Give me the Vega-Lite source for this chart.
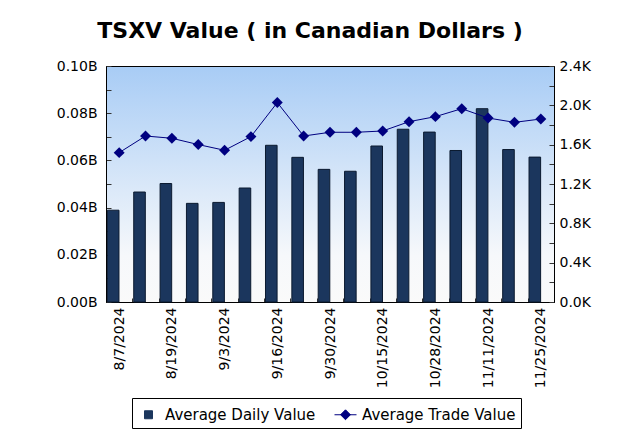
{
  "$schema": "https://vega.github.io/schema/vega-lite/v6.json",
  "width": 448,
  "height": 236,
  "autosize": {"type": "none"},
  "padding": {"left": 106, "top": 66, "right": 64, "bottom": 134},
  "background": "#ffffff",
  "title": {
    "text": "TSXV Value ( in Canadian Dollars )",
    "font": "DejaVu Sans",
    "fontSize": 22,
    "fontWeight": "bold",
    "color": "#000000",
    "anchor": "middle",
    "dx": -20,
    "offset": 16
  },
  "data": {
    "values": [
      {"date": "8/7/2024", "daily": 0.0389, "trade": 1519},
      {"date": "8/12/2024", "daily": 0.0466, "trade": 1688},
      {"date": "8/19/2024", "daily": 0.0502, "trade": 1665},
      {"date": "8/26/2024", "daily": 0.0418, "trade": 1601},
      {"date": "9/3/2024", "daily": 0.0422, "trade": 1543},
      {"date": "9/9/2024", "daily": 0.0483, "trade": 1682},
      {"date": "9/16/2024", "daily": 0.0664, "trade": 2028},
      {"date": "9/23/2024", "daily": 0.0613, "trade": 1688},
      {"date": "9/30/2024", "daily": 0.0562, "trade": 1726},
      {"date": "10/7/2024", "daily": 0.0554, "trade": 1726},
      {"date": "10/15/2024", "daily": 0.0661, "trade": 1739},
      {"date": "10/21/2024", "daily": 0.0732, "trade": 1834},
      {"date": "10/28/2024", "daily": 0.0720, "trade": 1885},
      {"date": "11/4/2024", "daily": 0.0642, "trade": 1966},
      {"date": "11/11/2024", "daily": 0.0819, "trade": 1871},
      {"date": "11/18/2024", "daily": 0.0646, "trade": 1827},
      {"date": "11/25/2024", "daily": 0.0614, "trade": 1861}
    ]
  },
  "encoding": {
    "x": {
      "field": "date",
      "type": "ordinal",
      "sort": null,
      "scale": {"paddingInner": 0, "paddingOuter": 0},
      "axis": {
        "title": null,
        "labelAngle": -90,
        "labelFont": "DejaVu Sans",
        "labelFontSize": 14,
        "labelColor": "#000000",
        "labelPadding": 9,
        "tickBand": "extent",
        "tickSize": -4,
        "tickColor": "#333333",
        "domainColor": "#000000",
        "labelExpr": "indexof(['8/7/2024','8/19/2024','9/3/2024','9/16/2024','9/30/2024','10/15/2024','10/28/2024','11/11/2024','11/25/2024'], datum.value) >= 0 ? datum.value : ''"
      }
    },
    "color": {
      "scale": {
        "domain": ["Average Daily Value", "Average Trade Value"],
        "range": ["#1b365d", "#000080"]
      },
      "legend": {
        "title": null,
        "orient": "none",
        "legendX": 26,
        "legendY": 332,
        "direction": "horizontal",
        "strokeColor": "#000000",
        "fillColor": "#ffffff",
        "padding": 5,
        "labelFont": "DejaVu Sans",
        "labelFontSize": 15,
        "labelColor": "#000000",
        "labelOffset": 5,
        "columnPadding": 16,
        "labelExpr": "datum.label == 'Average Trade Value' ? datum.label + '\u00a0\u00a0' : datum.label",
        "encode": {
          "symbols": {
            "update": {
              "shape": {"signal": "datum.value == 'Average Daily Value' ? 'square' : 'M-1,0L1,0M-0.45,0L0,-0.45L0.45,0L0,0.45Z'"},
              "size": {"signal": "datum.value == 'Average Daily Value' ? 64 : 484"},
              "fill": {"signal": "datum.value == 'Average Daily Value' ? '#1b365d' : '#000080'"},
              "stroke": {"signal": "datum.value == 'Average Daily Value' ? '#0b1a30' : '#000080'"},
              "strokeWidth": {"value": 1},
              "opacity": {"value": 1},
              "fillOpacity": {"value": 1}
            }
          }
        }
      }
    }
  },
  "layer": [
    {
      "mark": {"type": "bar", "width": {"band": 0.44}, "xOffset": -6, "stroke": "#0b1a30", "strokeWidth": 1},
      "encoding": {
        "y": {
          "field": "daily",
          "type": "quantitative",
          "scale": {"domain": [0, 0.1], "nice": false},
          "axis": {
            "title": null,
            "values": [0, 0.01, 0.02, 0.03, 0.04, 0.05, 0.06, 0.07, 0.08, 0.09, 0.1],
            "labelExpr": "round(datum.value*100) % 2 == 0 ? format(datum.value, '.2f') + 'B' : ''",
            "labelFont": "DejaVu Sans",
            "labelFontSize": 14,
            "labelColor": "#000000",
            "grid": false,
            "tickSize": -5,
            "tickColor": "#333333",
            "domainColor": "#000000",
            "labelPadding": 14
          }
        },
        "color": {"datum": "Average Daily Value"}
      }
    },
    {
      "mark": {"type": "line", "strokeWidth": 1, "color": "#000080"},
      "encoding": {
        "y": {
          "field": "trade",
          "type": "quantitative",
          "scale": {"domain": [0, 2400], "nice": false},
          "axis": {
            "title": null,
            "orient": "right",
            "values": [0, 200, 400, 600, 800, 1000, 1200, 1400, 1600, 1800, 2000, 2200, 2400],
            "labelExpr": "round(datum.value/200) % 2 == 0 ? format(datum.value/1000, '.1f') + 'K' : ''",
            "labelFont": "DejaVu Sans",
            "labelFontSize": 14,
            "labelColor": "#000000",
            "grid": false,
            "tickSize": -5,
            "tickColor": "#333333",
            "domainColor": "#000000",
            "labelPadding": 10
          }
        },
        "color": {"datum": "Average Trade Value"}
      }
    },
    {
      "mark": {"type": "point", "shape": "diamond", "filled": true, "size": 120, "opacity": 1, "color": "#000080"},
      "encoding": {
        "y": {"field": "trade", "type": "quantitative", "scale": {"domain": [0, 2400], "nice": false}, "axis": null},
        "color": {"datum": "Average Trade Value"}
      }
    }
  ],
  "resolve": {"scale": {"y": "independent"}},
  "config": {
    "view": {
      "stroke": "#000000",
      "strokeWidth": 1,
      "fill": {
        "gradient": "linear",
        "x1": 0, "y1": 0, "x2": 0, "y2": 1,
        "stops": [
          {"offset": 0, "color": "#a8ccf5"},
          {"offset": 0.8, "color": "#f6f8fb"},
          {"offset": 1, "color": "#fafafa"}
        ]
      }
    }
  }
}
